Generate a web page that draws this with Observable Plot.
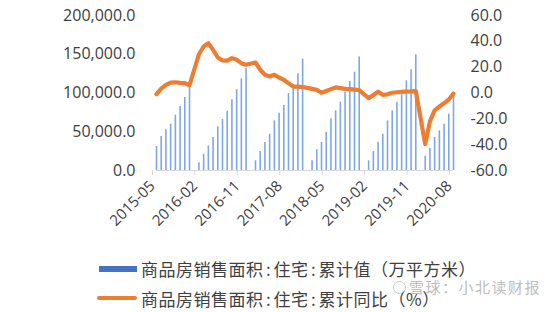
<!DOCTYPE html>
<html>
<head>
<meta charset="utf-8">
<script src="https://cdn.jsdelivr.net/npm/d3@7"></script>
<script src="https://cdn.jsdelivr.net/npm/@observablehq/plot@0.6"></script>
<style>
  html, body { margin: 0; padding: 0; background: #fff; }
  #wrap { position: relative; width: 558px; height: 312px; overflow: hidden; }
  #chart { position: absolute; left: 0; top: 0; }
  .lg { position: absolute; font-family: "Noto Sans CJK SC", sans-serif; font-size: 17px; letter-spacing: 0.5px; color: #404040; white-space: nowrap; line-height: 1; }
  .lg .c { display: inline-block; margin: 0 2.4px; }
  .wm { position: absolute; font-family: "Noto Sans CJK SC", sans-serif; font-size: 15px; letter-spacing: 1.5px; color: #bdbdbd; white-space: nowrap; line-height: 1; }
</style>
</head>
<body>
<div id="wrap">
  <div id="chart"></div>
</div>
<script>
// ---- data ----
const months = [
  "2015-05","2015-06","2015-07","2015-08","2015-09","2015-10","2015-11","2015-12",
  "2016-01","2016-02","2016-03","2016-04","2016-05","2016-06","2016-07","2016-08","2016-09","2016-10","2016-11","2016-12",
  "2017-01","2017-02","2017-03","2017-04","2017-05","2017-06","2017-07","2017-08","2017-09","2017-10","2017-11","2017-12",
  "2018-01","2018-02","2018-03","2018-04","2018-05","2018-06","2018-07","2018-08","2018-09","2018-10","2018-11","2018-12",
  "2019-01","2019-02","2019-03","2019-04","2019-05","2019-06","2019-07","2019-08","2019-09","2019-10","2019-11","2019-12",
  "2020-01","2020-02","2020-03","2020-04","2020-05","2020-06","2020-07","2020-08"
];
// 商品房销售面积:住宅:累计值（万平方米）
const areaValues = [
  31000, 43900, 52500, 59700, 71300, 82600, 94200, 107100,
  null, 10000, 21000, 31600, 42600, 56300, 65800, 76500, 91400, 104300, 118300, 132000,
  null, 12500, 24500, 36100, 46800, 64100, 74000, 83900, 99300, 109700, 124700, 143600,
  null, 12500, 26700, 36100, 49400, 66700, 77000, 88100, 101000, 114800, 126800, 146500,
  null, 12500, 24500, 36500, 46900, 64000, 77000, 88000, 97600, 115700, 129900, 149200,
  null, 18500, 28800, 42600, 51000, 59700, 72600, 101000
];
// 商品房销售面积:住宅:累计同比（%）
const yoyValues = [
  -0.9, 3.3, 6.3, 8.1, 8.3, 7.8, 7.6, 6.0,
  null, 30.0, 36.0, 38.6, 33.5, 27.5, 25.2, 25.0, 27.0, 25.7, 23.1, 21.9,
  null, 23.6, 18.0, 14.1, 12.8, 14.1, 12.0, 10.2, 7.6, 5.0, 5.0, 4.6,
  null, 3.2, 2.4, 0.2, 1.5, 3.0, 4.3, 3.8, 3.2, 3.0, 2.6, 2.2,
  null, -4.0, -1.5, 1.0, -1.4, -1.0, 0.2, 0.6, 0.8, 1.0, 1.2, 1.5,
  null, -39.5, -22.0, -13.5, -10.5, -8.0, -5.0, -0.5
];
const xTickLabels = ["2015-05","2016-02","2016-11","2017-08","2018-05","2019-02","2019-11","2020-08"];
const leftTicks = [0, 50000, 100000, 150000, 200000];
const rightTicks = [-60, -40, -20, 0, 20, 40, 60];
const leftDomain = [0, 200000];
const rightDomain = [-60, 60];
const legendLabels = ["商品房销售面积:住宅:累计值（万平方米）", "商品房销售面积:住宅:累计同比（%）"];
const watermark = "雪球：小北读财报";

// ---- build ----
const toLeft = v => (v - rightDomain[0]) / (rightDomain[1] - rightDomain[0]) * (leftDomain[1] - leftDomain[0]) + leftDomain[0];
const rows = months.map((m, i) => ({i, m, area: areaValues[i], yoy: yoyValues[i]}));
const barRows = rows.filter(d => d.area != null);
const lineRows = rows.filter(d => d.yoy != null);
const xTickIdx = xTickLabels.map(l => months.indexOf(l));
const numFont = "'Open Sans', sans-serif";

const H = 245;
const chart = Plot.plot({
  width: 558,
  height: H,
  marginTop: 15,
  marginBottom: H - 170,
  marginLeft: 156,
  marginRight: 105,
  style: {fontFamily: numFont, fontSize: "16px", color: "#595959", background: "transparent"},
  x: {type: "linear", domain: [0, months.length - 1]},
  y: {domain: leftDomain},
  marks: [
    Plot.ruleX(barRows, {x: "i", y1: 0, y2: "area", stroke: "#7FA7E6", strokeWidth: 1.6}),
    Plot.ruleY([0], {stroke: "#D9D9D9", strokeWidth: 1.2}),
    Plot.axisX({ticks: xTickIdx, tickFormat: i => months[i], tickRotate: -45, tickSize: 5, tickPadding: 8, dx: -4,
      stroke: "#D9D9D9", fill: "#404040", fontSize: 15, label: null}),
    Plot.axisY({anchor: "left", ticks: leftTicks, tickFormat: d3.format(",.1f"), tickSize: 0, tickPadding: 21,
      fill: "#404040", fontSize: 16, label: null}),
    Plot.axisY({anchor: "right", ticks: rightTicks.map(toLeft), tickFormat: v => {
        const r = Math.round((v - leftDomain[0]) / (leftDomain[1] - leftDomain[0]) * (rightDomain[1] - rightDomain[0]) + rightDomain[0]);
        return d3.format(".1f")(r).replace("−", "-");
      }, tickSize: 0, tickPadding: 17, fill: "#404040", fontSize: 16, label: null}),
    Plot.line(lineRows, {x: "i", y: d => toLeft(d.yoy), stroke: "#ED7D31", strokeWidth: 4.2,
      strokeLinejoin: "round", strokeLinecap: "round"})
  ]
});
document.getElementById("chart").appendChild(chart);

// ---- legend ----
const wrap = document.getElementById("wrap");
function addDiv(cls, css) {
  const d = document.createElement("div");
  if (cls) d.className = cls;
  Object.assign(d.style, css);
  wrap.appendChild(d);
  return d;
}
function fillLabel(div, text) {
  text.split(":").forEach((part, k) => {
    if (k > 0) {
      const c = document.createElement("span");
      c.className = "c";
      c.textContent = ":";
      div.appendChild(c);
    }
    div.appendChild(document.createTextNode(part));
  });
}
addDiv(null, {position: "absolute", left: "99px", top: "265.5px", width: "37.5px", height: "6px", background: "#4472C4"});
fillLabel(addDiv("lg", {left: "141px", top: "259.5px"}), legendLabels[0]);
addDiv(null, {position: "absolute", left: "96.5px", top: "295.5px", width: "40px", height: "4.6px", borderRadius: "2.3px", background: "#ED7D31"});
fillLabel(addDiv("lg", {left: "141px", top: "289.5px"}), legendLabels[1]);
// watermark
addDiv(null, {position: "absolute", left: "393px", top: "281px", width: "11px", height: "11px",
  border: "1.6px solid #c4c4c4", borderRadius: "50%", opacity: 0.85});
addDiv("wm", {left: "409px", top: "279px"}).textContent = watermark;
</script>
</body>
</html>
